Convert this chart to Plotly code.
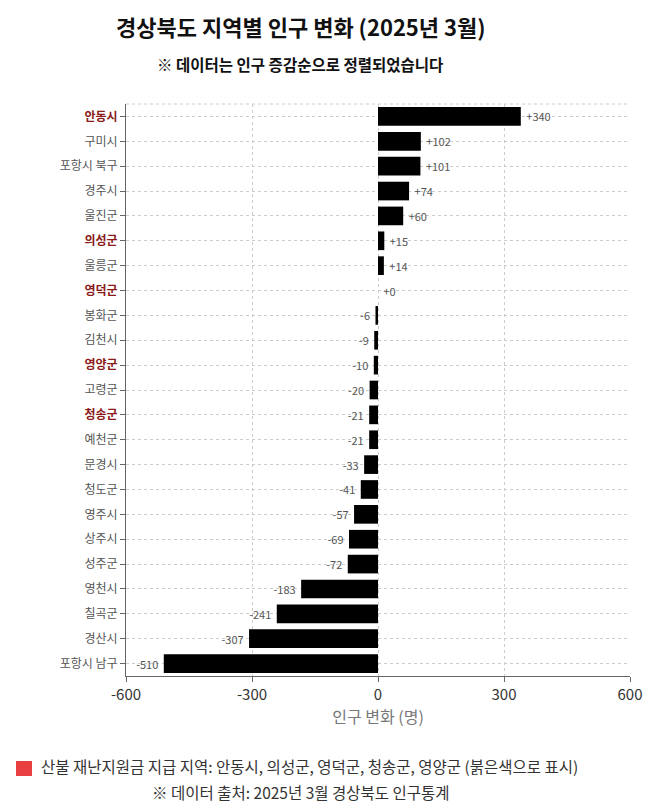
import plotly.graph_objects as go

regions = ["안동시", "구미시", "포항시 북구", "경주시", "울진군", "의성군", "울릉군", "영덕군",
           "봉화군", "김천시", "영양군", "고령군", "청송군", "예천군", "문경시", "청도군",
           "영주시", "상주시", "성주군", "영천시", "칠곡군", "경산시", "포항시 남구"]
changes = [340, 102, 101, 74, 60, 15, 14, 0, -6, -9, -10, -20, -21, -21, -33, -41,
           -57, -69, -72, -183, -241, -307, -510]
aid_regions = ["안동시", "의성군", "영덕군", "청송군", "영양군"]
x_ticks = [-600, -300, 0, 300, 600]

FONT = "Noto Sans CJK KR"
NB = "\u00a0"
labels = [(NB + "+%d" % v) if v >= 0 else (str(v) + NB) for v in changes]
ticktext = [("<b><span style='color:#8B1A1A'>%s</span></b>" % r) if r in aid_regions else r
            for r in regions]

fig = go.Figure(go.Bar(
    x=changes, y=regions, orientation="h",
    marker=dict(color="#000000", line=dict(width=0)),
    width=0.75,
    text=labels, textposition="outside", cliponaxis=False,
    textfont=dict(size=11, color="#555555", family=FONT),
))

GRID = "#cccccc"
fig.update_layout(
    width=650, height=804,
    margin=dict(l=118, r=28, t=96, b=136),
    paper_bgcolor="white", plot_bgcolor="white",
    font=dict(family=FONT, color="#444444"),
    showlegend=False,
    xaxis=dict(range=[-600, 600], tickvals=x_ticks, ticktext=[str(t) for t in x_ticks],
               showgrid=True, gridcolor=GRID, griddash="3px,3px", gridwidth=1,
               zeroline=False, showline=True, linecolor="#666666", linewidth=1,
               ticks="outside", ticklen=5, tickcolor="#666666",
               tickfont=dict(size=15, color="#333333", family=FONT),
               title=dict(text="인구 변화 (명)", font=dict(size=16, color="#777777", family=FONT), standoff=8)),
    yaxis=dict(categoryorder="array", categoryarray=regions, autorange="reversed",
               tickvals=regions, ticktext=ticktext,
               showgrid=True, gridcolor=GRID, griddash="3px,3px", gridwidth=1,
               showline=True, linecolor="#666666", linewidth=1,
               ticks="outside", ticklen=5, tickcolor="#666666",
               tickfont=dict(size=12, color="#555555", family=FONT)),
    shapes=[
        dict(type="line", xref="paper", yref="paper", x0=0, x1=1, y0=1, y1=1,
             line=dict(color=GRID, width=1, dash="3px,3px")),
        dict(type="rect", xref="paper", yref="paper",
             x0=(16 - 126) / 504, x1=(32 - 126) / 504,
             y0=-(776 - 676) / 572, y1=-(761 - 676) / 572,
             fillcolor="#E84040", line=dict(width=0)),
    ],
    annotations=[
        dict(text="<b>경상북도 지역별 인구 변화 (2025년 3월)</b>", xref="paper", yref="paper",
             x=(301 - 126) / 504, y=1 + (104 - 26) / 572, xanchor="center", yanchor="middle",
             showarrow=False, font=dict(size=22, color="#111111", family=FONT)),
        dict(text="<b>※ 데이터는 인구 증감순으로 정렬되었습니다</b>", xref="paper", yref="paper",
             x=(300 - 126) / 504, y=1 + (104 - 64) / 572, xanchor="center", yanchor="middle",
             showarrow=False, font=dict(size=15.5, color="#111111", family=FONT)),
        dict(text="산불 재난지원금 지급 지역: 안동시, 의성군, 영덕군, 청송군, 영양군 (붉은색으로 표시)",
             xref="paper", yref="paper",
             x=(39 - 126) / 504, y=-(766 - 676) / 572, xanchor="left", yanchor="middle",
             showarrow=False, font=dict(size=15.5, color="#333333", family=FONT)),
        dict(text="※ 데이터 출처: 2025년 3월 경상북도 인구통계", xref="paper", yref="paper",
             x=(301 - 126) / 504, y=-(792 - 676) / 572, xanchor="center", yanchor="middle",
             showarrow=False, font=dict(size=15.5, color="#333333", family=FONT)),
    ],
)

fig.write_html("out.html")
